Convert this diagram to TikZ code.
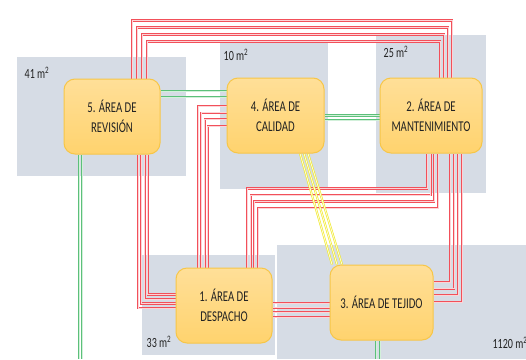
\documentclass[tikz,border=0pt]{standalone}
\usepackage{fontspec}
\setmainfont{Carlito}
\newfontfamily\planfont[FakeStretch=0.72]{Carlito}
\usetikzlibrary{calc,backgrounds}

\definecolor{zona}{RGB}{214,220,229}
\definecolor{cajaborde}{RGB}{247,198,72}
\definecolor{cajaarriba}{RGB}{255,223,152}
\definecolor{cajaabajo}{RGB}{255,211,110}
\definecolor{texto}{RGB}{35,35,35}
\definecolor{rojo}{RGB}{242,80,90}
\definecolor{rojoclaro}{RGB}{252,212,215}
\definecolor{verde}{RGB}{92,192,122}
\definecolor{verdeclaro}{RGB}{210,240,218}
\definecolor{amarillo}{RGB}{238,232,40}
\definecolor{amarilloclaro}{RGB}{255,252,208}

\tikzset{
  cajaarea/.style={draw=cajaborde, line width=1pt, rounded corners=11pt,
    top color=cajaarriba, bottom color=cajaabajo, minimum height=75pt,
    inner sep=0pt, align=center, text=texto,
    font=\planfont\fontsize{15}{20}\selectfont},
  metros/.style={text=texto, font=\planfont\fontsize{14}{15}\selectfont},
  tuberia/.style={line width=0.6pt, double distance=0.9pt},
  roja/.style={tuberia, draw=rojo, double=rojoclaro},
  verdes/.style={tuberia, draw=verde, double=verdeclaro},
  amarilla/.style={tuberia, draw=amarillo, double=amarilloclaro}
}

\begin{document}
\begin{tikzpicture}[x=1pt, y=-1pt]
    \useasboundingbox (0,0) rectangle (526,359);

    % Zonas (superficies)
    \begin{scope}[on background layer]
        \fill[zona] (17,57) rectangle (186,176);
        \fill[zona] (220,42) rectangle (328,189);
        \fill[zona] (376,35) rectangle (486,193);
        \fill[zona] (142,255) rectangle (275,355);
        \fill[zona] (277,245) rectangle (526,359);
    \end{scope}

    \node[metros] (m41) at (37,73) {41 m\textsuperscript{2}};
    \node[metros] (m10) at (236,55) {10 m\textsuperscript{2}};
    \node[metros] (m25) at (396,52) {25 m\textsuperscript{2}};
    \node[metros] (m33) at (159,342) {33 m\textsuperscript{2}};
    \node[metros, anchor=west] (m1120) at (489,343) {1120 m\textsuperscript{2}};

    % Areas
    \node[cajaarea, minimum width=96pt] (revision) at (112,116.5) {5. ÁREA DE\\REVISIÓN};
    \node[cajaarea, minimum width=97pt] (calidad) at (275.5,115.5) {4. ÁREA DE\\CALIDAD};
    \node[cajaarea, minimum width=102pt] (mant) at (431,115.5) {2. ÁREA DE\\MANTENIMIENTO};
    \node[cajaarea, minimum width=96pt] (despacho) at (224,305.5) {1. ÁREA DE\\DESPACHO};
    \node[cajaarea, minimum width=103pt] (tejido) at (381.5,302.5) {3. ÁREA DE TEJIDO};

    \coordinate (bordeinf) at (0,359);

    % Conexiones
    \begin{scope}[on background layer]
        \foreach \i in {0,...,3}{
            \draw[roja] ($(revision.north)+(20+5*\i,0)$) -- ++(0,-58+7*\i) -| ($(mant.north)+(21-4*\i,0)$);
            \draw[roja] ($(revision.south)+(26+3.3*\i,0)$) |- ($(despacho.west)+(0,2.5-4.5*\i)$);
            \draw[roja] ($(calidad.west)+(0,-9.5+6.7*\i)$) -| ($(despacho.north)+(-26+3.3*\i,0)$);
            \draw[roja] ($(mant.south)+(-4+3.7*\i,0)$) -- ++(0,35+6.5*\i) -| ($(despacho.north)+(23+3.7*\i,0)$);
            \draw[roja] ($(mant.south)+(19+4*\i,0)$) |- ($(tejido.east)+(0,-20.5+6.7*\i)$);
            \draw[roja] ($(despacho.east)+(0,-2.5+4.7*\i)$) coordinate (r) -- (r -| tejido.west);
        }
        \foreach \d in {-25.5,-19.5}
            \draw[verdes] ($(revision.east)+(0,\d)$) coordinate (g) -- (g -| calidad.west);
        \foreach \d in {0,4.5}
            \draw[verdes] ($(calidad.east)+(0,\d)$) coordinate (g) -- (g -| mant.west);
        \foreach \d in {-33,-30}
            \draw[verdes] ($(revision.south)+(\d,0)$) coordinate (g) -- (g |- bordeinf);
        \foreach \d in {-5.5,-1.5}
            \draw[verdes] ($(tejido.south)+(\d,0)$) coordinate (g) -- (g |- bordeinf);
        \foreach \i in {0,1,2}
            \draw[amarilla] ($(calidad.south)+(24.5+4*\i,0)$) -- ($(tejido.north)+(-49.5+5*\i,0)$);
    \end{scope}
\end{tikzpicture}
\end{document}
